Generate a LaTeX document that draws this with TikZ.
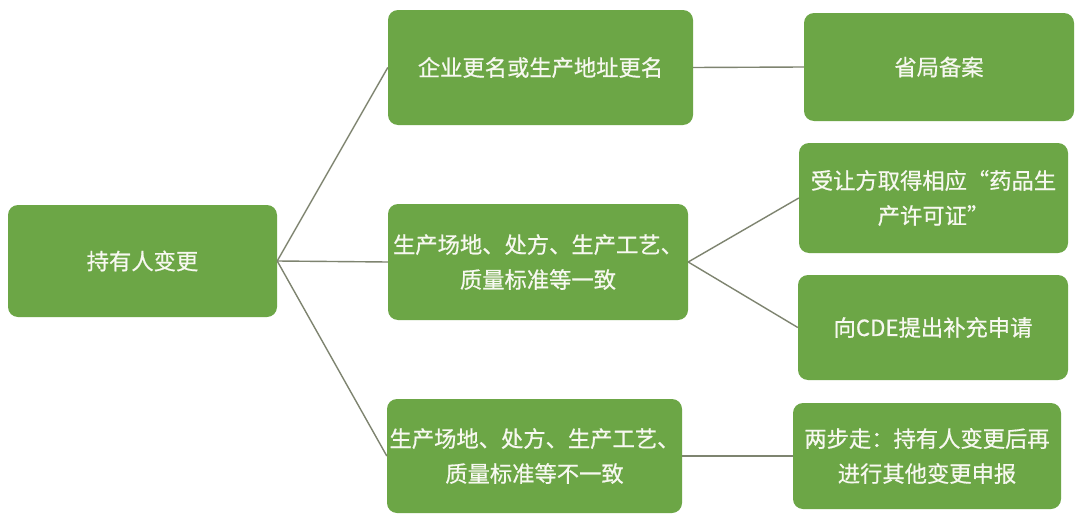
\documentclass[tikz,border=0pt]{standalone}
\usepackage{fontspec}
\setmainfont[FakeBold=0.6]{Noto Sans CJK SC}
\definecolor{boxgreen}{HTML}{6CA646}
\definecolor{linkgray}{HTML}{7E8470}
\definecolor{txt}{HTML}{F7F8F0}
\begin{document}
\begin{tikzpicture}[x=1pt,y=-1pt,
  box/.style={draw=none,fill=boxgreen,rounded corners=10pt,text=txt,
    align=center,inner sep=0pt,font=\fontsize{22.3}{35}\selectfont},
  link/.style={draw=linkgray,line width=1.4pt}]
\useasboundingbox[fill=white] (0,0) rectangle (1080,522);
\node[box,minimum width=269pt,minimum height=112pt] (b1) at (142.5,261) {持有人变更};
\node[box,minimum width=305pt,minimum height=115pt] (b2) at (540.5,67.5) {企业更名或生产地址更名};
\node[box,minimum width=270pt,minimum height=108pt] (b3) at (939,67) {省局备案};
\node[box,minimum width=300pt,minimum height=116pt] (b4) at (538,262) {生产场地、处方、生产工艺、\\质量标准等一致};
\node[box,minimum width=269pt,minimum height=110pt] (b5) at (933.5,198) {受让方取得相应“药品生\\产许可证”};
\node[box,minimum width=270pt,minimum height=105pt] (b6) at (933,327.5) {向CDE提出补充申请};
\node[box,minimum width=295pt,minimum height=114pt] (b7) at (534.5,456) {生产场地、处方、生产工艺、\\质量标准等不一致};
\node[box,minimum width=268pt,minimum height=106pt] (b8) at (927,456) {两步走：持有人变更后再\\进行其他变更申报};
\draw[link] (b1.east) -- (b2.west);
\draw[link] (b1.east) -- (b4.west);
\draw[link] (b1.east) -- (b7.west);
\draw[link] (b2.east) -- (b3.west);
\draw[link] (b4.east) -- (b5.west);
\draw[link] (b4.east) -- (b6.west);
\draw[link] (b7.east) -- (b8.west);
\end{tikzpicture}
\end{document}
